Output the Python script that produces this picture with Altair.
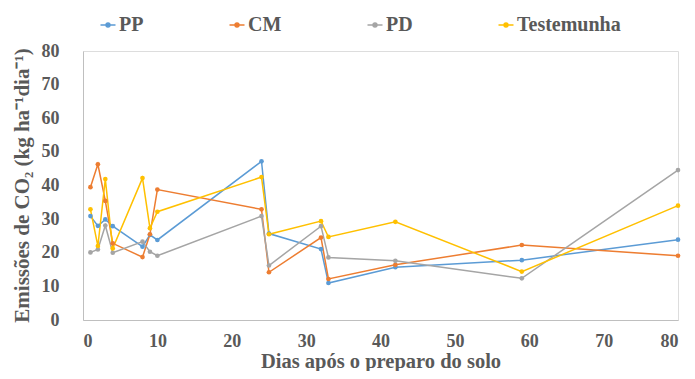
import altair as alt
import pandas as pd

days = [1, 2, 3, 4, 8, 9, 10, 24, 25, 32, 33, 42, 59, 80]
pp = [30.9, 28.0, 29.9, 27.9, 21.8, 25.3, 23.8, 47.2, 25.7, 21.1, 11.0, 15.7, 17.8, 23.9]
cm = [39.5, 46.3, 35.4, 22.8, 18.7, 25.5, 38.8, 32.9, 14.2, 24.5, 12.2, 16.4, 22.3, 19.1]
pd_ = [20.1, 21.0, 28.1, 20.0, 23.3, 20.3, 19.1, 30.9, 16.2, 27.9, 18.6, 17.6, 12.4, 44.6]
test = [32.9, 22.0, 41.9, 21.3, 42.2, 27.3, 32.2, 42.5, 25.5, 29.4, 24.7, 29.2, 14.4, 34.0]

series_names = ["PP", "CM", "PD", "Testemunha"]
series_colors = ["#5B9BD5", "#ED7D31", "#A5A5A5", "#FFC000"]

rows = []
for name, vals in zip(series_names, [pp, cm, pd_, test]):
    for d, v in zip(days, vals):
        rows.append({"dia": d, "serie": name, "valor": v})
df = pd.DataFrame(rows)

FONT = "Liberation Serif"
TXT = "#595959"
sym = "M-1,0L1,0M0.26,0A0.26,0.26 0 1 1 -0.26,0A0.26,0.26 0 1 1 0.26,0Z"

color = alt.Color(
    "serie:N",
    scale=alt.Scale(domain=series_names, range=series_colors),
    sort=series_names,
    legend=alt.Legend(
        title=None,
        orient="none",
        direction="horizontal",
        columns=4,
        gridAlign="none",
        legendX=15,
        legendY=-36,
        symbolType=sym,
        symbolSize=225,
        symbolStrokeWidth=1.5,
        labelFont=FONT,
        labelFontSize=20,
        labelFontWeight="bold",
        labelColor=TXT,
        labelOffset=1,
        columnPadding=82,
        padding=0,
    ),
)

x = alt.X(
    "dia:Q",
    scale=alt.Scale(domain=[0, 80], nice=False),
    axis=alt.Axis(
        title="Dias após o preparo do solo",
        values=list(range(0, 81, 10)),
        grid=False,
        ticks=False,
        domainColor="#BFBFBF",
        labelPadding=12,
        labelFont=FONT,
        labelFontSize=18,
        labelFontWeight="bold",
        labelColor=TXT,
        titleFont=FONT,
        titleFontSize=20.5,
        titleFontWeight="bold",
        titleColor=TXT,
        titlePadding=1,
    ),
)
y = alt.Y(
    "valor:Q",
    scale=alt.Scale(domain=[0, 80], nice=False),
    axis=alt.Axis(
        title="Emissões de CO₂ (kg ha⁻¹dia⁻¹)",
        values=list(range(0, 81, 10)),
        grid=False,
        ticks=False,
        domainColor="#BFBFBF",
        labelPadding=24,
        labelFont=FONT,
        labelFontSize=18,
        labelFontWeight="bold",
        labelColor=TXT,
        titleFont=FONT,
        titleFontSize=21,
        titleFontWeight="bold",
        titleColor=TXT,
        titleX=-61,
        titleY=134,
        titleAngle=-90,
        titleAlign="center",
        titleBaseline="middle",
    ),
)

chart = (
    alt.Chart(df)
    .mark_line(strokeWidth=1.5, point=alt.OverlayMarkDef(filled=True, size=22, opacity=1))
    .encode(x=x, y=y, color=color, order=alt.Order("dia:Q"), detail="serie:N")
    .properties(
        width=595,
        height=269,
        autosize=alt.AutoSizeParams(type="none"),
        padding={"left": 75, "top": 43, "right": 9, "bottom": 51},
    )
    .configure_view(stroke=None)
    .configure(background="white")
)

chart.save("out.html", embed_options={"renderer": "svg", "actions": False})
